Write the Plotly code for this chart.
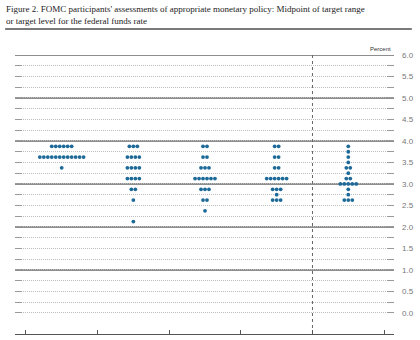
import plotly.graph_objects as go

# Projection horizons (columns of the dot plot)
columns = ["2018", "2019", "2020", "2021", "Longer run"]

# Midpoints of the target range (percent) and number of participants at each
midpoints_2018 = [3.875, 3.625, 3.375]
counts_2018 = [6, 12, 1]

midpoints_2019 = [3.875, 3.625, 3.375, 3.125, 2.875, 2.625, 2.125]
counts_2019 = [3, 4, 4, 4, 2, 1, 1]

midpoints_2020 = [3.875, 3.625, 3.375, 3.125, 2.875, 2.625, 2.375]
counts_2020 = [2, 2, 3, 6, 3, 2, 1]

midpoints_2021 = [3.875, 3.625, 3.375, 3.125, 2.875, 2.75, 2.625]
counts_2021 = [2, 2, 2, 6, 3, 1, 3]

midpoints_longer = [3.875, 3.75, 3.625, 3.5, 3.375, 3.25, 3.125, 3.0, 2.875, 2.75, 2.625]
counts_longer = [1, 1, 1, 1, 2, 1, 2, 5, 1, 1, 3]

# Right-hand axis labels
ytick_values = [0.0, 0.5, 1.0, 1.5, 2.0, 2.5, 3.0, 3.5, 4.0, 4.5, 5.0, 5.5, 6.0]
ytick_labels = ["0.0", "0.5", "1.0", "1.5", "2.0", "2.5", "3.0", "3.5", "4.0", "4.5", "5.0", "5.5", "6.0"]

DOT_COLOR = "#1d6a99"
DOT_STEP = 0.0555  # horizontal spacing between neighbouring dots, in column units

all_midpoints = [midpoints_2018, midpoints_2019, midpoints_2020, midpoints_2021, midpoints_longer]
all_counts = [counts_2018, counts_2019, counts_2020, counts_2021, counts_longer]

fig = go.Figure()

for col, (mids, cnts) in enumerate(zip(all_midpoints, all_counts)):
    xs, ys = [], []
    for m, c in zip(mids, cnts):
        for k in range(c):
            xs.append(col + (k - (c - 1) / 2) * DOT_STEP)
            ys.append(m)
    fig.add_trace(go.Scatter(
        x=xs, y=ys, mode="markers", name=columns[col],
        marker=dict(size=3.8, color=DOT_COLOR, line=dict(width=0)),
        hoverinfo="skip", showlegend=False,
    ))

X_MIN, X_MAX = -0.652, 4.638
Y_MIN, Y_MAX = -0.49, 6.0

shapes = []
# Heavier rules at whole percentage points
for v in range(1, 7):
    shapes.append(dict(type="line", xref="paper", yref="y", x0=0, x1=1, y0=v, y1=v,
                       line=dict(color="#8e8e8e", width=2), layer="below"))
# Divider before the longer-run column
shapes.append(dict(type="line", xref="x", yref="y", x0=3.5, x1=3.5, y0=Y_MIN, y1=Y_MAX,
                   line=dict(color="#666666", width=1, dash="dot"), layer="below"))
# Rule under the figure heading
shapes.append(dict(type="line", xref="paper", yref="paper", x0=-0.026, x1=1.047,
                   y0=1.093, y1=1.093, line=dict(color="#7a7a7a", width=2)))

minor_y = [0.25 + 0.5 * i for i in range(12)]
GRID_DASH = "1px,1px"

fig.update_layout(
    width=420, height=340,
    margin=dict(l=15, r=23, t=55, b=6),
    paper_bgcolor="white", plot_bgcolor="white",
    xaxis=dict(
        range=[X_MIN, X_MAX], showgrid=False, zeroline=False,
        showline=True, linecolor="#555555", linewidth=1,
        tickmode="array", tickvals=[X_MIN + 0.002, X_MAX - 0.002],
        ticks="inside", ticklen=7, tickcolor="#555555", tickwidth=1,
        showticklabels=False,
        minor=dict(tickmode="array", tickvals=[-0.5, 0.5, 1.5, 2.5, 3.5, 4.5],
                   ticks="inside", ticklen=4, tickcolor="#555555", showgrid=False),
    ),
    yaxis=dict(
        range=[Y_MIN, Y_MAX], side="right", zeroline=False, showline=False,
        tickmode="array", tickvals=ytick_values, ticktext=ytick_labels,
        ticks="inside", ticklen=7, tickcolor="#9a9a9a", tickwidth=1, mirror="ticks",
        showgrid=True, gridcolor="#bdbdbd", gridwidth=1, griddash=GRID_DASH,
        tickfont=dict(family="Liberation Sans", size=8, color="#777777"),
        ticklabelstandoff=7,
        minor=dict(tickmode="array", tickvals=minor_y, ticks="inside", ticklen=7,
                   tickcolor="#9a9a9a", showgrid=True, gridcolor="#bdbdbd",
                   gridwidth=1, griddash=GRID_DASH),
    ),
    shapes=shapes,
    annotations=[
        dict(text="Figure 2. FOMC participants' assessments of appropriate monetary policy: Midpoint of target range"
                  "<br>or target level for the federal funds rate",
             xref="paper", yref="paper", x=-0.0288, y=1.19,
             xanchor="left", yanchor="top", align="left", showarrow=False,
             font=dict(family="Liberation Serif", size=9, color="#222222")),
        dict(text="Percent", xref="paper", yref="paper", x=1, y=1,
             xanchor="right", yanchor="bottom", xshift=-1, yshift=1,
             showarrow=False,
             font=dict(family="Liberation Sans", size=6, color="#333333")),
    ],
)

fig.write_html("out.html")
